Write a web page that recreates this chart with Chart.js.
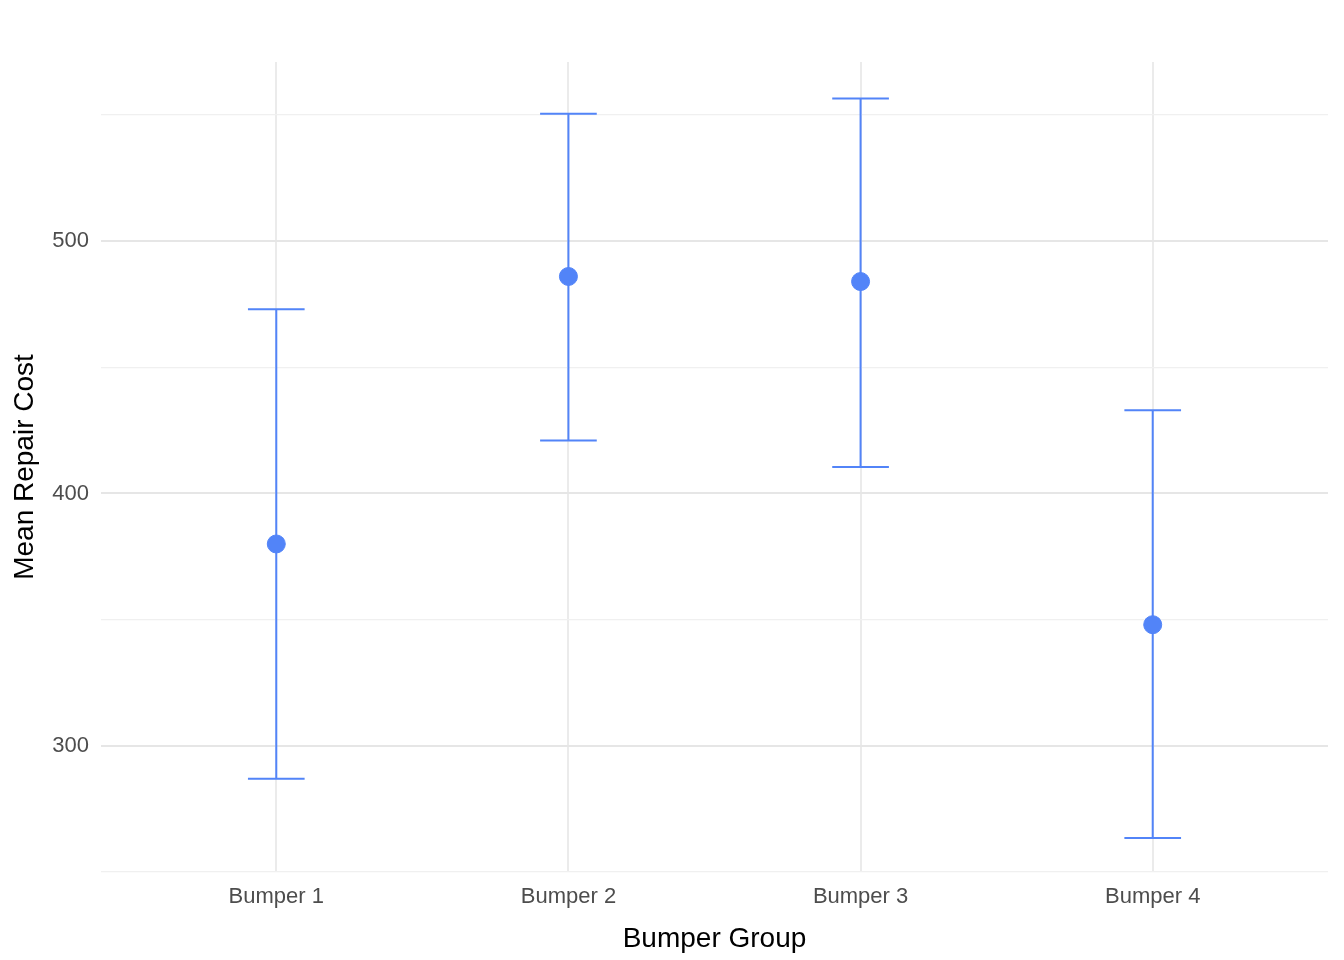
<!DOCTYPE html>
<html>
<head>
<meta charset="utf-8">
<script src="https://cdn.jsdelivr.net/npm/chart.js@4/dist/chart.umd.min.js"></script>
<style>
  html, body { margin: 0; padding: 0; background: #fff; }
  #wrap { width: 1344px; height: 960px; }
</style>
</head>
<body>
<div id="wrap"><canvas id="c"></canvas></div>
<script>
// data
const groups = ['Bumper 1', 'Bumper 2', 'Bumper 3', 'Bumper 4'];
const means  = [380, 486, 484, 348];
const upper  = [473, 550.5, 556.5, 433];
const lower  = [287, 421, 410.5, 263.5];

const blue = '#5284F8';
const capHalf = 0.097; // in x units

// error bars drawn through the chart's scales
const errorBars = {
  id: 'errorBars',
  beforeDatasetsDraw(chart) {
    const { ctx, scales: { x, y } } = chart;
    ctx.save();
    ctx.strokeStyle = blue;
    ctx.lineWidth = 2;
    groups.forEach((g, i) => {
      const cx = x.getPixelForValue(i + 1);
      const l = x.getPixelForValue(i + 1 - capHalf), r = x.getPixelForValue(i + 1 + capHalf);
      const yt = y.getPixelForValue(upper[i]), yb = y.getPixelForValue(lower[i]);
      ctx.beginPath();
      ctx.moveTo(cx, yt); ctx.lineTo(cx, yb);
      ctx.moveTo(l, yt); ctx.lineTo(r, yt);
      ctx.moveTo(l, yb); ctx.lineTo(r, yb);
      ctx.stroke();
    });
    ctx.restore();
  }
};

new Chart(document.getElementById('c'), {
  type: 'scatter',
  data: {
    datasets: [{
      data: means.map((m, i) => ({ x: i + 1, y: m })),
      backgroundColor: blue, borderColor: blue, pointRadius: 9, pointHoverRadius: 9
    }]
  },
  options: {
    responsive: true, maintainAspectRatio: false, animation: false,
    layout: { padding: { top: 62, right: 16, left: 0, bottom: 0 } },
    plugins: { legend: { display: false }, tooltip: { enabled: false } },
    scales: {
      x: {
        type: 'linear', min: 0.4, max: 4.6,
        afterBuildTicks: s => { s.ticks = groups.map((g, i) => ({ value: i + 1 })); },
        afterFit: s => { s.height = 88; },
        grid: { color: '#ebebeb', lineWidth: 2, drawTicks: false },
        border: { display: false },
        ticks: { callback: v => groups[v - 1], color: '#4d4d4d', font: { family: 'Liberation Sans', size: 22 }, padding: 12 },
        title: { display: true, text: 'Bumper Group', color: '#000', font: { family: 'Liberation Sans', size: 28 }, padding: { top: 2 } }
      },
      y: {
        min: 250, max: 571,
        afterBuildTicks: s => { s.ticks = [250, 300, 350, 400, 450, 500, 550].map(v => ({ value: v })); },
        afterFit: s => { s.width = 101; },
        grid: {
          color: c => c.tick && c.tick.value % 100 === 0 ? '#e6e6e6' : '#f0f0f0',
          lineWidth: c => c.tick && c.tick.value % 100 === 0 ? 2 : 1.2,
          drawTicks: false
        },
        border: { display: false },
        ticks: { callback: v => v % 100 === 0 ? v : '', color: '#4d4d4d', font: { family: 'Liberation Sans', size: 22 }, padding: 12 },
        title: { display: true, text: 'Mean Repair Cost', color: '#000', font: { family: 'Liberation Sans', size: 28 }, padding: { top: 8, bottom: 0 } }
      }
    }
  },
  plugins: [errorBars]
});
</script>
</body>
</html>
